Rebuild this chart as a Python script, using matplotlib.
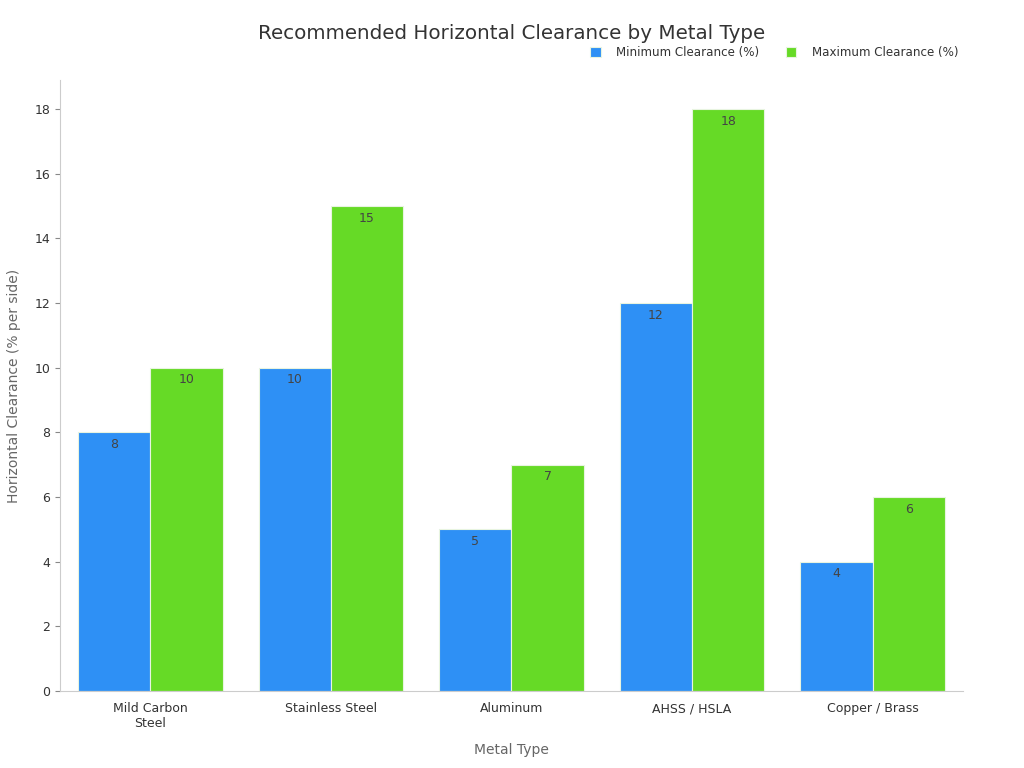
import matplotlib
matplotlib.use("Agg")
import matplotlib.pyplot as plt
import numpy as np

categories = ["Mild Carbon\nSteel", "Stainless Steel", "Aluminum", "AHSS / HSLA", "Copper / Brass"]
min_clearance = [8, 10, 5, 12, 4]
max_clearance = [10, 15, 7, 18, 6]
series_names = ["Minimum Clearance (%)", "Maximum Clearance (%)"]
colors = ["#2E90F5", "#66DA26"]

plt.rcParams['font.family'] = ['DejaVu Sans']
fig = plt.figure(figsize=(10.24, 7.68), dpi=100)
ax = fig.add_axes([0.0586, 0.1003, 0.8818, 0.7955])

x = np.arange(len(categories))
w = 0.4
for i, (vals, name, c) in enumerate(zip([min_clearance, max_clearance], series_names, colors)):
    pos = x + (i - 0.5) * w
    ax.bar(pos, vals, width=w, color=c, edgecolor="#e8f4e0", linewidth=0.8, label=name)
    for px, v in zip(pos, vals):
        ax.annotate(str(v), (px, v), xytext=(0, -4), textcoords="offset points",
                    ha="center", va="top", fontsize=9, color="#444444")

ax.set_xlim(-0.5, 4.5)
ax.set_ylim(0, 18.9)
ax.set_yticks(range(0, 19, 2))
ax.set_xticks(x)
ax.set_xticklabels(categories, fontsize=9, color="#333333")
ax.tick_params(axis="y", labelsize=9, labelcolor="#333333", color="#888888")
ax.tick_params(axis="x", length=0, pad=8)
for s in ["top", "right"]:
    ax.spines[s].set_visible(False)
for s in ["left", "bottom"]:
    ax.spines[s].set_color("#cccccc")
ax.set_xlabel("Metal Type", fontsize=10, color="#666666", labelpad=9)
ax.set_ylabel("Horizontal Clearance (% per side)", fontsize=10, color="#666666", labelpad=10)

fig.text(0.5, 0.957, "Recommended Horizontal Clearance by Metal Type", ha="center", va="center",
         fontsize=14.3, color="#333333")
leg = fig.legend(*ax.get_legend_handles_labels(), loc="center right",
                 bbox_to_anchor=(0.9405, 0.931), ncol=2, frameon=False,
                 fontsize=8.6, handlelength=0.9, handleheight=0.9, columnspacing=2.2,
                 handletextpad=1.3, borderaxespad=0.0)
for t in leg.get_texts():
    t.set_color("#333333")

fig.savefig("out.png", dpi=100)
